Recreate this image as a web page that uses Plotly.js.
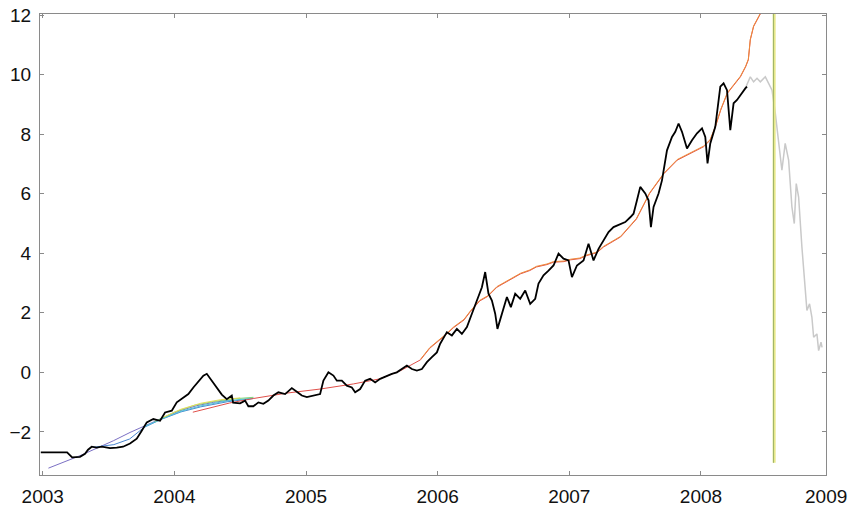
<!DOCTYPE html>
<html>
<head>
<meta charset="utf-8">
<script src="https://cdn.plot.ly/plotly-3.0.1.min.js"></script>
<style>html,body{margin:0;padding:0;background:#fff;}#chart{width:851px;height:507px;}</style>
</head>
<body>
<div id="chart"></div>
<script>
// ---- data (years, values) ----
var priceX = [2002.985,2003.093,2003.185,2003.223,2003.283,2003.321,2003.344,2003.372,2003.410,2003.448,2003.511,2003.562,2003.610,2003.663,2003.714,2003.752,2003.790,2003.840,2003.891,2003.929,2003.980,2004.018,2004.068,2004.106,2004.144,2004.170,2004.220,2004.246,2004.284,2004.322,2004.360,2004.398,2004.436,2004.446,2004.499,2004.537,2004.562,2004.600,2004.638,2004.676,2004.714,2004.752,2004.790,2004.841,2004.892,2004.930,2004.968,2005.006,2005.056,2005.107,2005.132,2005.170,2005.208,2005.234,2005.272,2005.310,2005.348,2005.373,2005.411,2005.449,2005.487,2005.525,2005.563,2005.614,2005.652,2005.690,2005.728,2005.766,2005.804,2005.842,2005.880,2005.918,2005.956,2005.994,2006.019,2006.070,2006.108,2006.146,2006.184,2006.222,2006.260,2006.298,2006.336,2006.361,2006.386,2006.412,2006.437,2006.454,2006.488,2006.526,2006.556,2006.589,2006.627,2006.665,2006.703,2006.741,2006.766,2006.804,2006.842,2006.880,2006.918,2006.956,2006.994,2007.020,2007.058,2007.108,2007.146,2007.184,2007.222,2007.260,2007.298,2007.336,2007.387,2007.425,2007.463,2007.488,2007.514,2007.539,2007.577,2007.602,2007.620,2007.640,2007.678,2007.704,2007.742,2007.780,2007.805,2007.830,2007.856,2007.894,2007.932,2007.970,2008.008,2008.033,2008.050,2008.071,2008.109,2008.147,2008.172,2008.198,2008.223,2008.248,2008.274,2008.299,2008.337,2008.350];
var priceY = [-2.69,-2.70,-2.69,-2.86,-2.84,-2.74,-2.60,-2.50,-2.53,-2.50,-2.55,-2.53,-2.50,-2.39,-2.23,-1.96,-1.68,-1.57,-1.63,-1.35,-1.29,-1.01,-0.84,-0.73,-0.51,-0.37,-0.11,-0.05,-0.28,-0.51,-0.75,-0.90,-0.78,-1.02,-1.04,-0.95,-1.14,-1.14,-1.01,-1.06,-0.95,-0.78,-0.67,-0.73,-0.53,-0.65,-0.78,-0.83,-0.78,-0.73,-0.28,0.00,-0.11,-0.28,-0.28,-0.45,-0.51,-0.67,-0.56,-0.28,-0.22,-0.34,-0.22,-0.11,-0.05,0.00,0.11,0.23,0.11,0.06,0.11,0.34,0.51,0.67,0.96,1.35,1.24,1.46,1.29,1.52,1.97,2.41,2.86,3.37,2.64,2.41,1.97,1.46,1.97,2.53,2.19,2.64,2.47,2.75,2.30,2.47,2.98,3.26,3.42,3.59,3.99,3.82,3.76,3.20,3.59,3.76,4.32,3.76,4.15,4.43,4.71,4.88,4.97,5.05,5.21,5.33,5.78,6.23,6.01,5.78,4.88,5.56,6.01,6.45,7.46,7.91,8.08,8.36,8.08,7.52,7.80,8.03,8.20,7.91,7.02,7.69,8.25,9.60,9.71,9.48,8.14,9.04,9.15,9.32,9.54,9.60];

var laterX = [2008.337,2008.375,2008.400,2008.426,2008.451,2008.489,2008.514,2008.540,2008.565,2008.578,2008.603,2008.615,2008.640,2008.666,2008.691,2008.709,2008.724,2008.742,2008.767,2008.793,2008.805,2008.825,2008.843,2008.856,2008.881,2008.894,2008.912,2008.920];
var laterY = [9.54,9.93,9.76,9.88,9.76,9.93,9.71,9.48,8.70,8.14,7.13,6.79,7.69,7.13,5.56,5.00,6.34,5.89,4.21,2.53,2.08,2.30,1.85,1.18,1.29,0.73,1.01,0.84];

var fitPurpleX = [2003.043,2003.157,2003.283,2003.410,2003.536,2003.663,2003.790,2003.916,2004.043,2004.170,2004.296,2004.423];
var fitPurpleY = [-3.22,-3.03,-2.80,-2.55,-2.30,-2.02,-1.76,-1.52,-1.29,-1.12,-1.01,-0.93];

var fitBlueX = [2003.38,2003.54,2003.66,2003.77,2003.90,2004.05,2004.20,2004.40,2004.60];
var fitBlueY = [-2.52,-2.43,-2.24,-1.85,-1.58,-1.33,-1.16,-0.99,-0.88];

var fitCyanX = [2003.77,2003.90,2004.05,2004.20,2004.40,2004.60];
var fitCyanY = [-1.83,-1.57,-1.31,-1.13,-0.96,-0.86];

var fitGreenX = [2003.85,2004.00,2004.15,2004.30,2004.45,2004.60];
var fitGreenY = [-1.66,-1.34,-1.11,-0.98,-0.89,-0.84];

var fitYellowX = [2003.92,2004.05,2004.20,2004.35,2004.50];
var fitYellowY = [-1.50,-1.24,-1.04,-0.92,-0.86];

var fitRedX = [2004.14,2004.27,2004.42,2004.60,2004.85,2005.11,2005.36,2005.56,2005.72,2005.87,2005.94,2006.07,2006.12,2006.20,2006.25,2006.32,2006.38,2006.45,2006.50,2006.58,2006.63,2006.70,2006.75,2006.83,2006.88,2006.96,2007.01,2007.08,2007.13,2007.21,2007.26,2007.39,2007.51,2007.61,2007.72,2007.82,2007.92,2008.02,2008.07,2008.11,2008.15,2008.20,2008.25,2008.30,2008.34,2008.36,2008.375,2008.40,2008.44,2008.47,2008.49];
var fitRedY = [-1.34,-1.19,-1.03,-0.88,-0.70,-0.56,-0.39,-0.22,0.06,0.42,0.81,1.29,1.50,1.76,2.05,2.40,2.55,2.86,2.98,3.20,3.31,3.42,3.54,3.62,3.70,3.72,3.78,3.82,3.92,4.02,4.21,4.55,5.15,6.01,6.68,7.13,7.35,7.58,7.80,8.25,8.81,9.37,9.65,9.93,10.27,10.50,11.17,11.62,11.95,12.20,12.60];

var fitOrangeX = [2005.87,2005.94,2006.07,2006.12,2006.20,2006.25,2006.32,2006.38,2006.45,2006.50,2006.58,2006.63,2006.70,2006.75,2006.83,2006.88,2006.96,2007.01,2007.08,2007.13,2007.21,2007.26,2007.39,2007.51,2007.61,2007.72,2007.82,2007.92,2008.02,2008.07,2008.11,2008.15,2008.20,2008.25,2008.30,2008.34,2008.36,2008.375,2008.40,2008.44,2008.47,2008.49];
var fitOrangeY = [0.44,0.83,1.31,1.52,1.78,2.07,2.42,2.57,2.88,3.00,3.22,3.33,3.44,3.56,3.64,3.72,3.74,3.80,3.84,3.94,4.04,4.23,4.57,5.17,6.03,6.70,7.15,7.37,7.60,7.82,8.27,8.83,9.39,9.67,9.95,10.29,10.52,11.19,11.64,11.97,12.22,12.62];

var markerX = [2008.556, 2008.556];
var markerY = [-3.04, 12.5];

var tickVals = [2003, 2004, 2005, 2006, 2007, 2008];
var tickText = ['2003', '2004', '2005', '2006', '2007', '2008'];
var yTicks = [-2, 0, 2, 4, 6, 8, 10, 12];

// ---- traces ----
function line(x, y, color, width) {
  return {x: x, y: y, type: 'scatter', mode: 'lines', line: {color: color, width: width}, hoverinfo: 'skip', showlegend: false};
}
var traces = [
  line(laterX, laterY, '#c9c9c9', 1.5),
  line(fitPurpleX, fitPurpleY, '#7b70c4', 1),
  line(fitBlueX, fitBlueY, '#4a86d0', 1),
  line(fitCyanX, fitCyanY, '#4cc3d8', 1),
  line(fitGreenX, fitGreenY, '#86d47a', 1),
  line(fitYellowX, fitYellowY, '#e6dc5a', 1),
  line(fitRedX, fitRedY, '#e0504a', 1),
  line(fitOrangeX, fitOrangeY, '#ee8a3a', 1),
  line(priceX, priceY, '#000000', 1.8),
  line(markerX, markerY, '#e8e88a', 3),
  line([2008.551, 2008.551], markerY, '#9fb46a', 1)
];

var axisCommon = {
  showline: true, linecolor: '#8a8a8a', linewidth: 1, mirror: 'ticks',
  ticks: 'inside', ticklen: 4, tickcolor: '#8a8a8a', tickwidth: 1,
  showgrid: false, zeroline: false,
  tickfont: {family: 'Liberation Sans, Arial, sans-serif', size: 19, color: '#111'}
};

var layout = {
  width: 851, height: 507,
  margin: {l: 40, r: 25, t: 14, b: 32, pad: 0},
  paper_bgcolor: '#fff', plot_bgcolor: '#fff',
  xaxis: Object.assign({}, axisCommon, {range: [2002.979, 2008.950], tickvals: tickVals, ticktext: tickText, ticklabelstandoff: 4}),
  yaxis: Object.assign({}, axisCommon, {range: [-3.45, 12.04], tickvals: yTicks, ticklabelstandoff: 4}),
  annotations: [{
    xref: 'paper', yref: 'paper', x: 1.0293, y: 0, yanchor: 'top', xanchor: 'right',
    yshift: -9, text: '2009', showarrow: false,
    font: {family: 'Liberation Sans, Arial, sans-serif', size: 19, color: '#111'}
  }]
};

Plotly.newPlot('chart', traces, layout, {staticPlot: true, displayModeBar: false});
</script>
</body>
</html>
